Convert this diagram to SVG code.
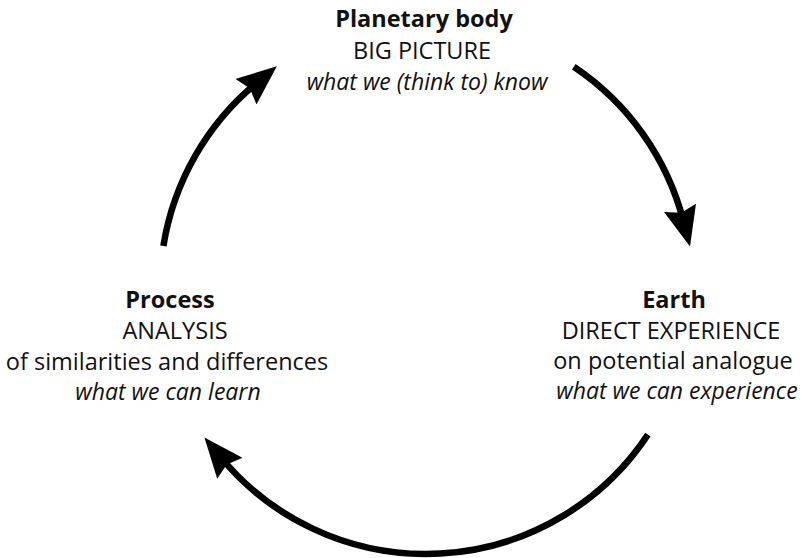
<svg xmlns="http://www.w3.org/2000/svg" width="802" height="558" viewBox="0 0 802 558">
<style>
text{font-family:"Open Sans","Noto Sans",sans-serif;font-size:23.5px;fill:#111;text-anchor:middle}
.b{font-weight:bold}
.i{font-style:italic;font-size:23px}
.arc{fill:none;stroke:#000;stroke-width:6.5;marker-end:url(#ah)}
</style>
<defs>
<marker id="ah" markerUnits="userSpaceOnUse" markerWidth="40" markerHeight="33" refX="14" refY="16.5" orient="auto" viewBox="0 0 40 33">
<path d="M0,0 L40,16.5 L0,33 L5,16.5 z" fill="#000"/>
</marker>
</defs>
<g id="connectors">
<path class="arc" d="M163.4,245.9 A266,266 0 0 1 256.8,82.8"/>
<path class="arc" d="M573.8,66.8 A266,266 0 0 1 683.5,221.4"/>
<path class="arc" d="M647.9,434.6 A266,266 0 0 1 221.0,457.5"/>
</g>
<g id="planetary">
<text class="b" x="424" y="27">Planetary body</text>
<text x="422" y="59">BIG PICTURE</text>
<text class="i" x="427" y="90">what we (think to) know</text>
</g>
<g id="process">
<text class="b" x="170" y="308">Process</text>
<text x="175" y="339">ANALYSIS</text>
<text x="167" y="370">of similarities and differences</text>
<text class="i" x="168" y="400">what we can learn</text>
</g>
<g id="earth">
<text class="b" x="674" y="308">Earth</text>
<text x="671" y="339">DIRECT EXPERIENCE</text>
<text x="673" y="369">on potential analogue</text>
<text class="i" x="677" y="399">what we can experience</text>
</g>
</svg>
